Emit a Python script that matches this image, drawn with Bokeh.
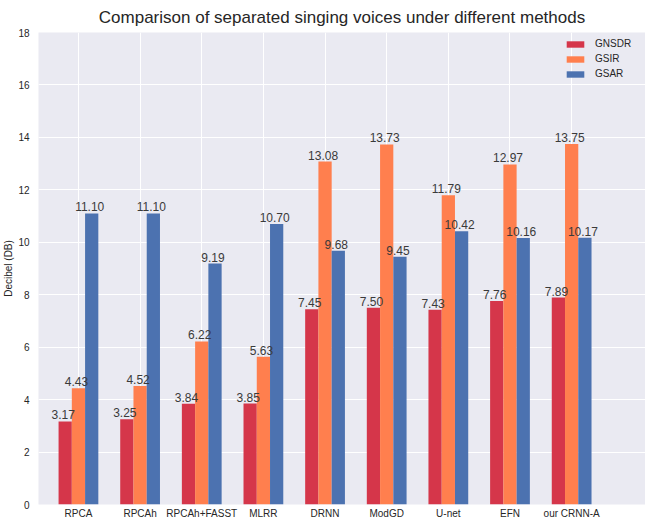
from bokeh.plotting import figure
from bokeh.models import ColumnDataSource, Range1d, FixedTicker, Legend, LegendItem
from bokeh.embed import file_html
from bokeh.resources import INLINE
from bokeh.core.properties import value

title_text = "Comparison of separated singing voices under different methods"
methods = ["RPCA", "RPCAh", "RPCAh+FASST", "MLRR", "DRNN", "ModGD", "U-net", "EFN", "our CRNN-A"]
gnsdr = [3.17, 3.25, 3.84, 3.85, 7.45, 7.50, 7.43, 7.76, 7.89]
gsir = [4.43, 4.52, 6.22, 5.63, 13.08, 13.73, 11.79, 12.97, 13.75]
gsar = [11.10, 11.10, 9.19, 10.70, 9.68, 9.45, 10.42, 10.16, 10.17]
series_names = ["GNSDR", "GSIR", "GSAR"]
colors = ["#D5364A", "#FF7F4E", "#4C72B0"]
y_ticks = [0, 2, 4, 6, 8, 10, 12, 14, 16, 18]

FONT = "Liberation Sans"
bar_w = 0.215
offsets = [-bar_w, 0.0, bar_w]

p = figure(width=645, height=521, output_backend="svg", toolbar_location=None,
           x_range=Range1d(-0.648, 9.198), y_range=Range1d(0, 18),
           min_border_left=37, min_border_right=0, min_border_top=32, min_border_bottom=17)

p.background_fill_color = "#EAEAF2"
p.border_fill_color = "white"
p.outline_line_color = None

p.title.text = title_text
p.title.align = "center"
p.title.vertical_align = "top"
p.title.text_font = FONT
p.title.text_font_size = "17px"
p.title.text_font_style = "normal"
p.title.text_color = "#262626"
p.title.standoff = 8
p.title.offset = -7

idx = list(range(len(methods)))
items = []
sources = []
for name, vals, col, off in zip(series_names, [gnsdr, gsir, gsar], colors, offsets):
    src = ColumnDataSource(dict(x=[i + off for i in idx], top=vals,
                                lab=["%.2f" % v for v in vals]))
    sources.append(src)
    r = p.vbar(x="x", top="top", bottom=0, width=bar_w, source=src,
               fill_color=col, line_color=None)
    items.append(LegendItem(label=name, renderers=[r]))

for src in sources:
    p.text(x="x", y="top", text="lab", source=src, text_align="center",
           text_baseline="bottom", x_offset=-2, y_offset=-2, text_font=value(FONT),
           text_font_size="12px", text_color="#3a3a3a")

legend = Legend(items=items, location=(526, 423), border_line_color=None,
                background_fill_alpha=0, padding=0, margin=0, spacing=0,
                label_text_font=FONT, label_text_font_size="10px",
                label_text_color="#262626", glyph_width=22, glyph_height=8,
                label_height=15, label_standoff=9)
p.add_layout(legend)

p.xaxis.ticker = FixedTicker(ticks=idx)
p.xaxis.major_label_overrides = {i: m for i, m in enumerate(methods)}
p.yaxis.ticker = FixedTicker(ticks=y_ticks)

for ax in [p.xaxis[0], p.yaxis[0]]:
    ax.axis_line_color = None
    ax.major_tick_line_color = None
    ax.minor_tick_line_color = None
    ax.major_tick_out = 0
    ax.major_tick_in = 0
    ax.major_label_text_font = FONT
    ax.major_label_text_font_size = "10px"
    ax.major_label_text_color = "#262626"

p.xaxis.major_label_standoff = 3
p.yaxis.major_label_standoff = 9
p.yaxis.axis_label = "Decibel (DB)"
p.yaxis.axis_label_text_font = FONT
p.yaxis.axis_label_text_font_size = "10px"
p.yaxis.axis_label_text_font_style = "normal"
p.yaxis.axis_label_text_color = "#262626"
p.yaxis.axis_label_standoff = 1

p.xgrid.ticker = FixedTicker(ticks=idx)
p.grid.grid_line_color = "white"
p.grid.grid_line_width = 1
p.grid.grid_line_alpha = 1

open("out.html", "w").write(file_html(p, INLINE))
